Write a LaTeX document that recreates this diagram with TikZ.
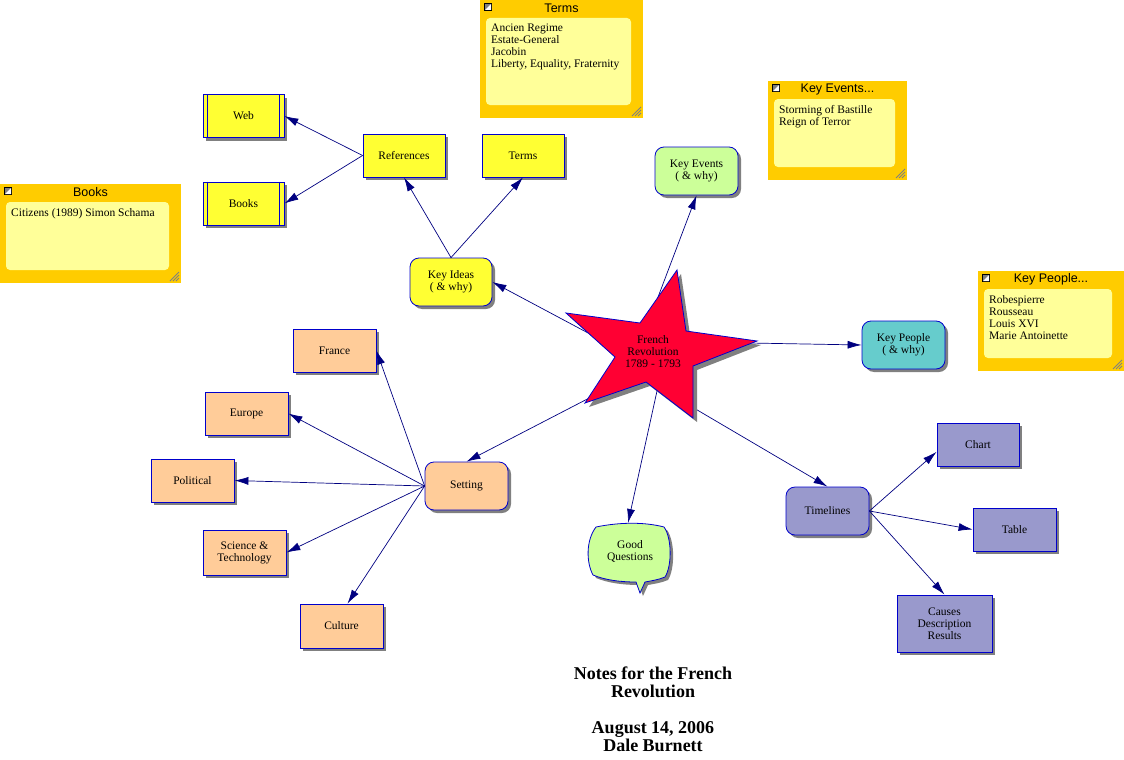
\documentclass[tikz,border=0pt]{standalone}
\usepackage{fontspec}
\setmainfont{Liberation Serif}
\newfontfamily\notesans{Liberation Sans}
\usetikzlibrary{shadows,arrows.meta,calc}
\definecolor{noteorange}{HTML}{FFCC00}
\definecolor{noteyellow}{HTML}{FFFF99}
\definecolor{boxyellow}{HTML}{FFFF33}
\definecolor{boxgreen}{HTML}{CCFF99}
\definecolor{boxteal}{HTML}{66CCCC}
\definecolor{boxpeach}{HTML}{FFCC99}
\definecolor{boxpurple}{HTML}{9999CC}
\definecolor{starred}{HTML}{FF0033}
\definecolor{bordblue}{HTML}{0000CC}
\definecolor{linenavy}{HTML}{000080}
\definecolor{shadowgray}{HTML}{808080}
\newcommand\nodefont{\fontsize{11.5}{12}\selectfont}
\newcommand\stickynote[7]{%
  \node[notebox, minimum width=#4pt, minimum height=#5pt, anchor=north west] (#1) at (#2,#3) {};
  \node[noteinner, minimum width={(#4-18)*1pt}, minimum height={(#5-31)*1pt}, anchor=north west] (#1in) at ($(#1.north west)+(6,18)$) {};
  \node[notetitle] (#1t) at ($(#1.north)+(0,8)$) {#6};
  \node[notebody, anchor=north west] (#1b) at ($(#1in.north west)+(5,6)$) {#7};
  \fill[black] ($(#1.north west)+(4,3)$) rectangle ++(8,8);
  \fill[shadowgray] ($(#1.north west)+(5,4)$) rectangle ++(6,6);
  \fill[white] ($(#1.north west)+(5,10)$) -- ++(6,0) -- ++(0,-6) -- cycle;
  \foreach \k in {3,6,9} \draw[shadowgray, line width=0.8pt] ($(#1.south east)+(-2-\k,-2)$) -- ($(#1.south east)+(-2,-2-\k)$);
}
\tikzset{
  notebox/.style={fill=noteorange, inner sep=0pt, outer sep=0pt},
  noteinner/.style={fill=noteyellow, rounded corners=4pt, inner sep=0pt, outer sep=0pt},
  notetitle/.style={font=\notesans\fontsize{12.5}{14}\selectfont, inner sep=0pt},
  notebody/.style={font=\nodefont, align=left, inner sep=0pt},
  base/.style={draw=bordblue, line width=0.8pt, align=center, font=\nodefont, inner sep=1pt,
    drop shadow={shadow xshift=3pt, shadow yshift=-3pt, fill=shadowgray, opacity=1}},
  rectbox/.style={base, minimum width=83pt, minimum height=43pt},
  roundbox/.style={base, rounded corners=9pt, minimum width=83pt, minimum height=48pt},
  conn/.style={draw=linenavy, line width=0.7pt, -{Latex[length=14pt,width=8pt]}},
  bar/.style={draw=bordblue, line width=0.8pt},
}
\begin{document}
\begin{tikzpicture}[x=1pt,y=-1pt]
\path[use as bounding box] (0,0) rectangle (1124,760);

% sticky notes
\stickynote{notesterms}{480}{0}{163}{118}{Terms}{Ancien Regime\\Estate-General\\Jacobin\\Liberty, Equality, Fraternity}
\stickynote{notesbooks}{0}{184}{181}{99}{Books}{Citizens (1989) Simon Schama}
\stickynote{notesevents}{768}{81}{139}{99}{Key Events...}{Storming of Bastille\\Reign of Terror}
\stickynote{notespeople}{978}{271}{146}{100}{Key People...}{Robespierre\\Rousseau\\Louis XVI\\Marie Antoinette}

% boxes
\node[rectbox, fill=boxyellow, minimum width=81pt] (web) at (243.5,116) {Web};
\node[rectbox, fill=boxyellow, minimum width=81pt] (books) at (243.5,203.5) {Books};
\foreach \n in {web,books}{
  \draw[bar] ($(\n.north west)+(5,0)$) -- ($(\n.south west)+(5,0)$);
  \draw[bar] ($(\n.north east)+(-5,0)$) -- ($(\n.south east)+(-5,0)$);
}
\node[rectbox, fill=boxyellow, minimum width=82pt] (refs) at (404,155.5) {References};
\node[rectbox, fill=boxyellow, minimum width=82pt] (terms) at (523,155.5) {Terms};
\node[roundbox, fill=boxyellow, minimum width=82pt] (ki) at (451,282) {Key Ideas\\( \& why)};
\node[roundbox, fill=boxgreen] (ke) at (696.5,171) {Key Events\\( \& why)};
\node[roundbox, fill=boxteal] (kp) at (903.5,345) {Key People\\( \& why)};
\node[roundbox, fill=boxpeach] (setting) at (466.5,486) {Setting};
\node[rectbox, fill=boxpeach] (france) at (334.5,350.5) {France};
\node[rectbox, fill=boxpeach] (europe) at (246.5,413.5) {Europe};
\node[rectbox, fill=boxpeach] (political) at (192.5,480.5) {Political};
\node[rectbox, fill=boxpeach, minimum height=45pt] (science) at (244.5,552.5) {Science \&\\Technology};
\node[rectbox, fill=boxpeach, minimum height=44pt] (culture) at (341.5,626) {Culture};
\node[roundbox, fill=boxpurple] (tl) at (827.5,511) {Timelines};
\node[rectbox, fill=boxpurple, minimum width=82pt] (chart) at (978,444.5) {Chart};
\node[rectbox, fill=boxpurple] (table) at (1014.5,529.5) {Table};
\node[rectbox, fill=boxpurple, minimum width=95pt, minimum height=57pt] (causes) at (944.5,623.5) {Causes\\Description\\Results};

% speech bubble
\fill[shadowgray, shift={(3,3)}] (596,527) .. controls (620,522) and (645,522) .. (664,527) .. controls (672,538) and (672,566) .. (665,577) .. controls (658,580) and (650,581) .. (645,582) -- (640,593) -- (636,582) .. controls (620,582) and (605,580) .. (593,575) .. controls (586,562) and (586,540) .. (596,527) -- cycle;
\filldraw[fill=boxgreen, draw=bordblue, line width=0.8pt] (596,527) .. controls (620,522) and (645,522) .. (664,527) .. controls (672,538) and (672,566) .. (665,577) .. controls (658,580) and (650,581) .. (645,582) -- (640,593) -- (636,582) .. controls (620,582) and (605,580) .. (593,575) .. controls (586,562) and (586,540) .. (596,527) -- cycle;
\node[font=\nodefont, align=center, inner sep=0pt] (gq) at (630,551) {Good\\Questions};
\coordinate (gqtop) at (628,523);

% connectors
\coordinate (sc) at (653,352);
\draw[conn] (ki.north) -- (refs.south);
\draw[conn] (ki.north) -- (terms.south);
\draw[conn] (refs.west) -- (web.east);
\draw[conn] (refs.west) -- (books.east);
\draw[conn] (setting.west) -- (france.east);
\draw[conn] (setting.west) -- (europe.east);
\draw[conn] (setting.west) -- (political.east);
\draw[conn] (setting.west) -- (science.east);
\draw[conn] (setting.west) -- ($(culture.north)+(6,0)$);
\draw[conn] (tl.east) -- (chart.-170);
\draw[conn] (tl.east) -- (table.west);
\draw[conn] (tl.east) -- (causes.north);
\draw[conn] ($(sc)+(-33,-2)$) -- (ki.east);
\draw[conn] ($(sc)+(-15,-2)$) -- (ke.south);
\draw[conn] ($(sc)+(40,-10)$) -- (kp.west);
\draw[conn] ($(sc)+(0,13)$) -- (setting.north);
\draw[conn] ($(sc)+(13,-2)$) -- (gqtop);
\draw[conn] ($(sc)+(0,32)$) -- (tl.north);

% star
\fill[shadowgray, shift={(4,4)}] (677,270) -- (686,331) -- (757,341) -- (693,366) -- (693,418) -- (646,382) -- (585,403) -- (615,357) -- (566,313) -- (640,323) -- cycle;
\filldraw[fill=starred, draw=bordblue, line width=0.8pt] (677,270) -- (686,331) -- (757,341) -- (693,366) -- (693,418) -- (646,382) -- (585,403) -- (615,357) -- (566,313) -- (640,323) -- cycle;
\node[font=\nodefont, align=center, inner sep=0pt] (star) at (sc) {French\\Revolution\\1789 - 1793};

% title
\node[font=\fontsize{18}{18}\selectfont\bfseries, align=center, inner sep=0pt] (title) at (653,709) {Notes for the French\\Revolution\\[18pt]August 14, 2006\\Dale Burnett};
\end{tikzpicture}
\end{document}
